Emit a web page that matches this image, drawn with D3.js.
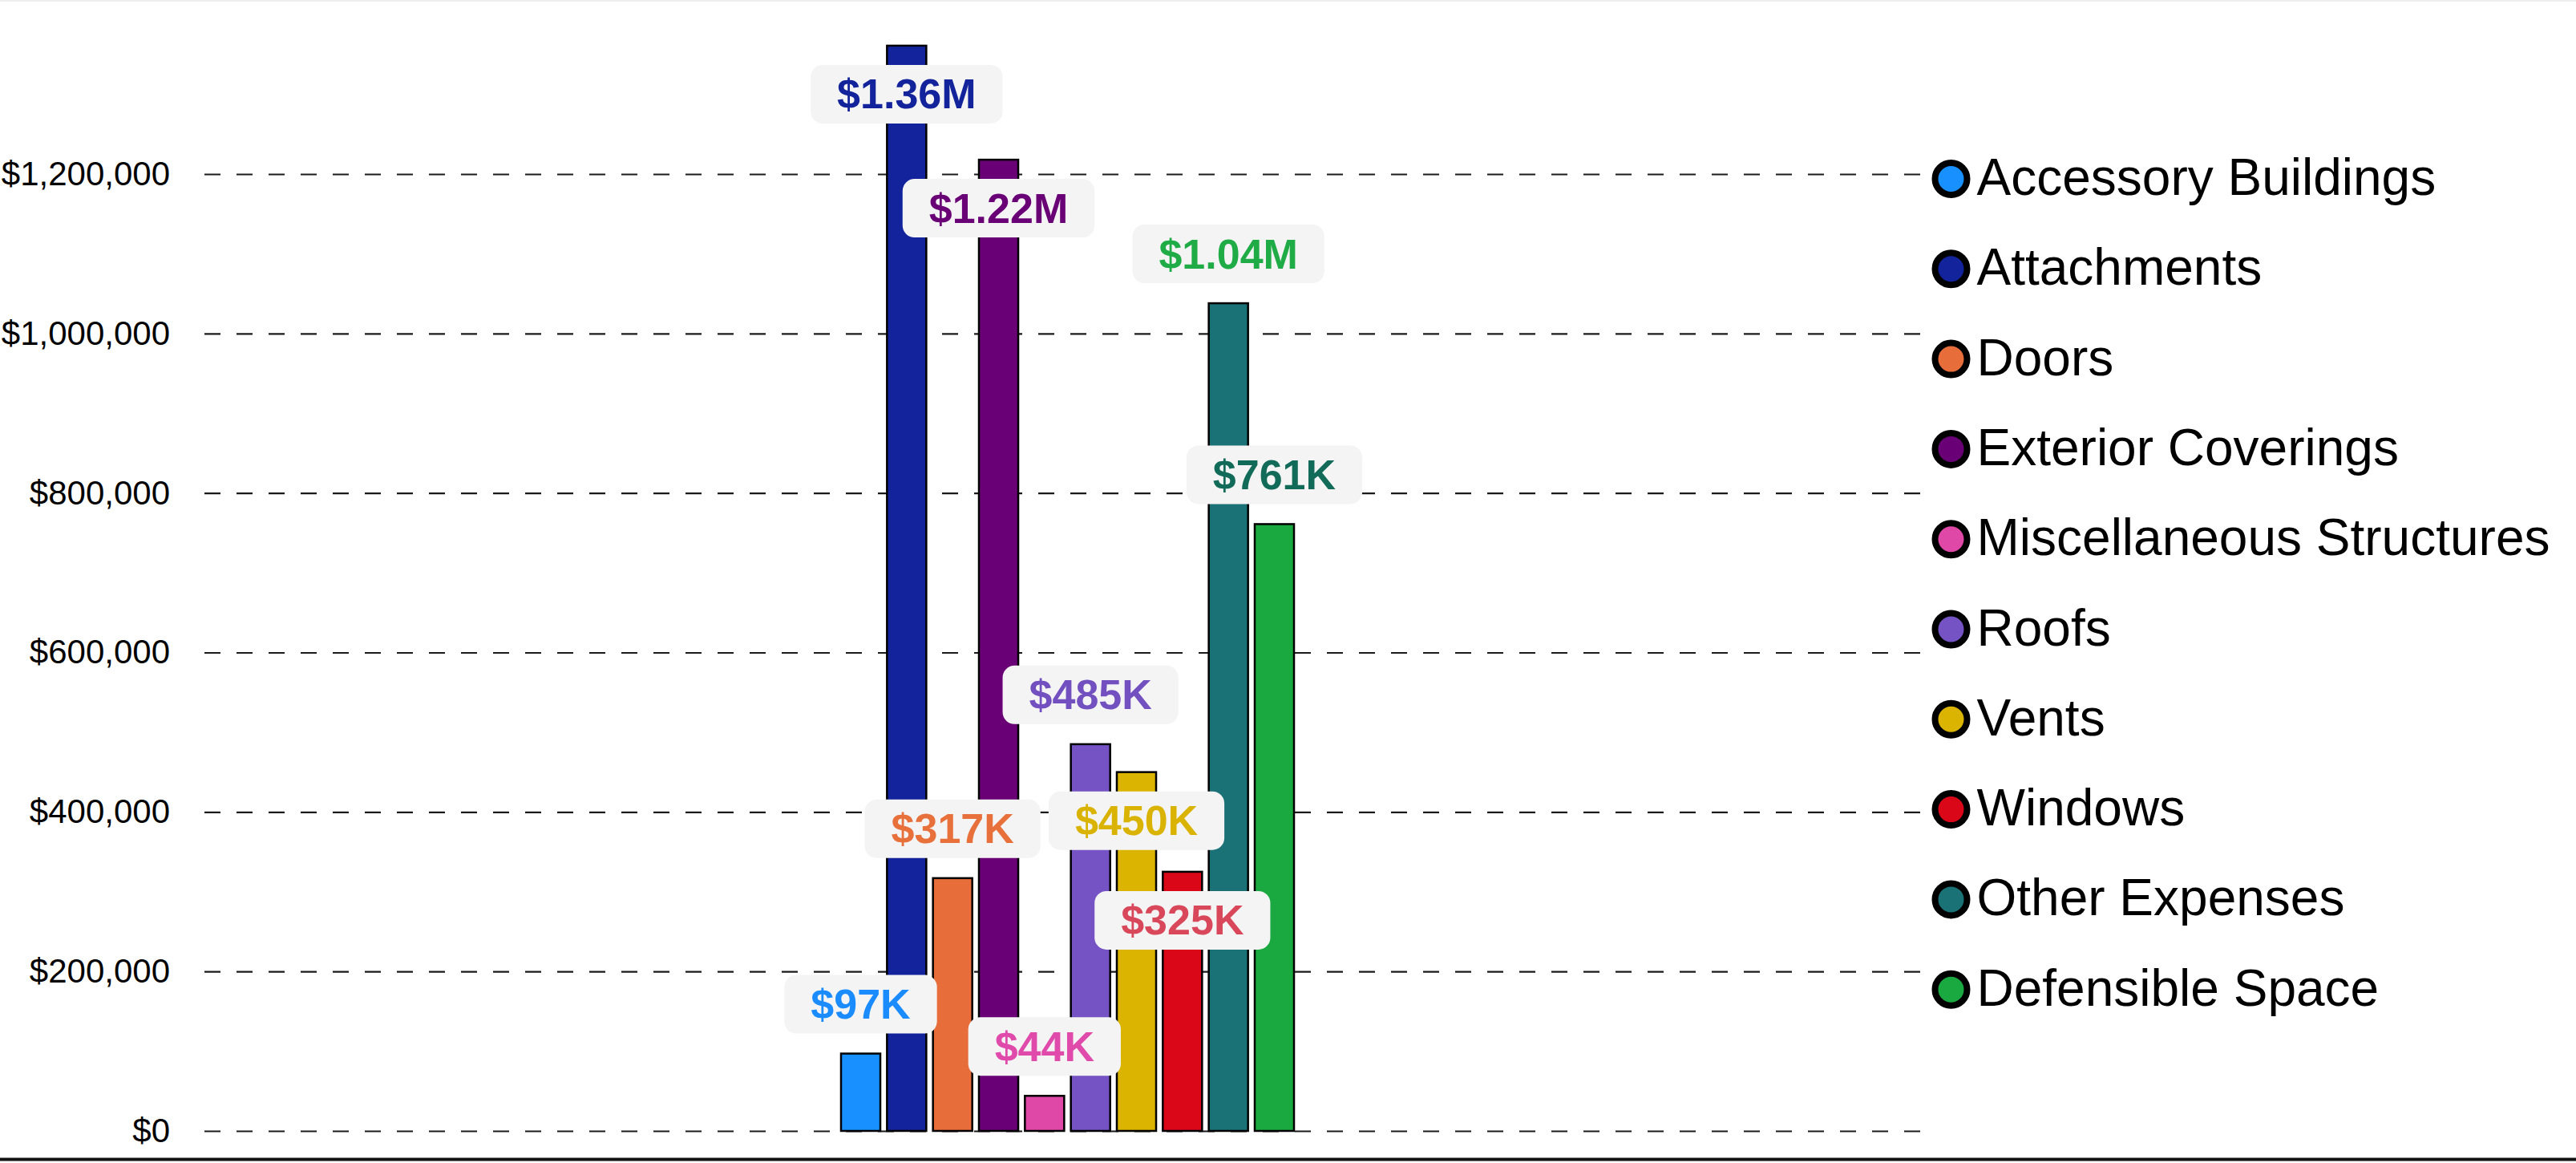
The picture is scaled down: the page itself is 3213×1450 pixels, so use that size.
<!DOCTYPE html>
<html>
<head>
<meta charset="utf-8">
<script src="https://cdn.jsdelivr.net/npm/d3@7"></script>
<style>
  body { margin: 0; background: #fff; }
  svg { display: block; font-family: "Liberation Sans", Arial, sans-serif; }
</style>
</head>
<body>
<script>
// chart data
const categories = ["Accessory Buildings", "Attachments", "Doors", "Exterior Coverings",
  "Miscellaneous Structures", "Roofs", "Vents", "Windows", "Other Expenses", "Defensible Space"];
const values = [97000, 1361000, 317000, 1218000, 44000, 485000, 450000, 325000, 1038000, 761000];
const barColors = ["#1890ff", "#12239b", "#e76e3b", "#690075", "#e048a8",
  "#7653c4", "#dab400", "#d90718", "#1a7176", "#1aa940"];
const labelColors = ["#1a8cff", "#12239b", "#e7703b", "#690075", "#e04aaa",
  "#7350c0", "#d9b300", "#d9485a", "#1fab45", "#126b58"];
const tickValues = [0, 200000, 400000, 600000, 800000, 1000000, 1200000];

const W = 3213, H = 1450;
const margin = {left: 255, right: 2395, bottom: 1410, top: 217};
const groupLeft = 1049, groupRight = 1614;

const svg = d3.select("body").append("svg")
  .attr("width", W)
  .attr("height", H);

// scales
const y = d3.scaleLinear().domain([0, 1200000]).range([margin.bottom, margin.top]);
const x = d3.scaleBand().domain(categories).range([groupLeft, groupRight]).paddingInner(0.145);

// top and bottom rules
svg.append("line").attr("x1", 0).attr("x2", W).attr("y1", 1).attr("y2", 1)
  .attr("stroke", "#eeeeee").attr("stroke-width", 2);
svg.append("line").attr("x1", 0).attr("x2", W).attr("y1", 1445.5).attr("y2", 1445.5)
  .attr("stroke", "#111").attr("stroke-width", 4);

// y axis with dashed gridlines
const yAxis = d3.axisLeft(y)
  .tickValues(tickValues)
  .tickFormat(d3.format("$,"))
  .tickSize(-(margin.right - margin.left))
  .tickPadding(43);

const gy = svg.append("g")
  .attr("transform", "translate(" + margin.left + ",0)")
  .call(yAxis);
gy.select(".domain").remove();
gy.selectAll(".tick line")
  .attr("stroke", "#1a1a1a")
  .attr("stroke-width", 2.2)
  .attr("stroke-dasharray", "20,20");
gy.selectAll(".tick text")
  .attr("font-size", 42)
  .attr("font-family", "Liberation Sans, Arial, sans-serif")
  .attr("fill", "#000");

// bars
svg.selectAll(".bar")
  .data(values)
  .enter()
  .append("rect")
  .attr("class", "bar")
  .attr("x", (d, i) => x(categories[i]))
  .attr("y", d => y(d))
  .attr("width", x.bandwidth())
  .attr("height", d => y(0) - y(d))
  .attr("fill", (d, i) => barColors[i])
  .attr("stroke", "#000")
  .attr("stroke-width", 2.5);

// value labels, placed above the bar unless that collides, then inside
const fmt = v => v >= 1e6 ? "$" + (v / 1e6).toFixed(2) + "M" : "$" + Math.round(v / 1000) + "K";
const boxH = 73, pad = 33, gap = 25;
const placed = [];
values.forEach((v, i) => {
  const cx = x(categories[i]) + x.bandwidth() / 2;
  const top = y(v);
  const g = svg.append("g");
  const rect = g.append("rect").attr("fill", "#f4f4f4").attr("rx", 15);
  const txt = g.append("text")
    .attr("x", cx)
    .attr("text-anchor", "middle")
    .attr("font-size", 52)
    .attr("font-weight", "bold")
    .attr("fill", labelColors[i])
    .text(fmt(v));
  const bw = txt.node().getComputedTextLength() + pad * 2;
  const bx = cx - bw / 2;
  let by = top - gap - boxH;
  const hits = b => bx < b.x + b.w && bx + bw > b.x && by < b.y + b.h && by + boxH > b.y;
  if (by < 0 || placed.some(hits)) by = top + gap - 1;
  placed.push({x: bx, y: by, w: bw, h: boxH});
  rect.attr("x", bx).attr("y", by).attr("width", bw).attr("height", boxH);
  txt.attr("y", by + boxH / 2 + 18);
});

// legend
const legend = svg.selectAll(".legend")
  .data(categories)
  .enter()
  .append("g")
  .attr("class", "legend")
  .attr("transform", (d, i) => "translate(2433.5," + (223 + i * 112.3) + ")");
legend.append("circle")
  .attr("r", 20)
  .attr("fill", (d, i) => barColors[i])
  .attr("stroke", "#000")
  .attr("stroke-width", 8);
legend.append("text")
  .attr("x", 32)
  .attr("y", 20)
  .attr("font-size", 64)
  .attr("fill", "#000")
  .text(d => d);
</script>
</body>
</html>
